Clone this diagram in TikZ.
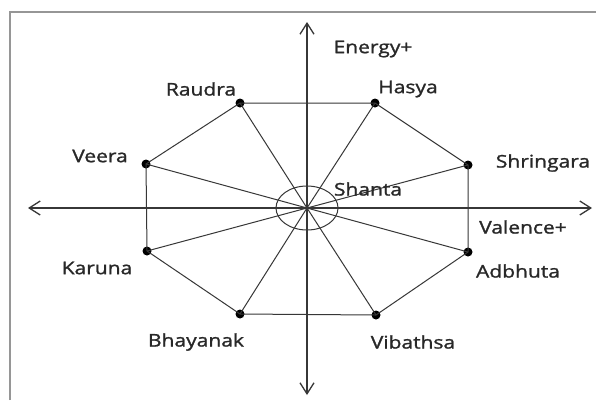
\documentclass[tikz,border=0pt]{standalone}
\usepackage{fontspec}
\setmainfont{Open Sans}
\newfontfamily\labfont{Open Sans}[FakeBold=1.2]
\usetikzlibrary{arrows.meta}
\definecolor{txt}{RGB}{40,40,40}
\definecolor{ln}{RGB}{55,55,55}
\definecolor{frame}{RGB}{150,150,150}
\tikzset{
  lab/.style={font=\labfont\fontsize{17.5}{20}\selectfont, text=txt, inner sep=0pt, xscale=1.2},
  dot/.style={circle, fill=black, inner sep=0pt, minimum size=9pt},
  edge/.style={draw=ln, line width=1pt},
  axis/.style={draw=ln, line width=1.3pt, -{Straight Barb[length=11pt,width=14pt,line width=1.3pt]}},
}
\begin{document}
\begin{tikzpicture}[x=1pt,y=-1pt]
\useasboundingbox (0,0) rectangle (596,400);
\fill[white] (0,0) rectangle (596,400);
\draw[frame, line width=2pt] (10,400) -- (10,12) -- (596,12);
% center and vertices
\coordinate (c) at (307,208);
\node[dot] (raudra) at (240,103) {};
\node[dot] (hasya) at (375,103) {};
\node[dot] (veera) at (146,164) {};
\node[dot] (shringara) at (468,165) {};
\node[dot] (karuna) at (147,251) {};
\node[dot] (adbhuta) at (468,252) {};
\node[dot] (bhayanak) at (240,314) {};
\node[dot] (vibathsa) at (376,315) {};
% axes
\coordinate (xl) at (28,208);
\coordinate (xr) at (592,208);
\coordinate (yt) at (307,22);
\coordinate (yb) at (307,395);
\draw[axis] (c) -- (xl);
\draw[axis] (c) -- (xr);
\draw[axis] (c) -- (yt);
\draw[axis] (c) -- (yb);
% octagon
\draw[edge] (raudra.center) -- (hasya.center) -- (shringara.center) -- (adbhuta.center) -- (vibathsa.center) -- (bhayanak.center) -- (karuna.center) -- (veera.center) -- cycle;
% spokes
\foreach \n in {raudra,hasya,veera,shringara,karuna,adbhuta,bhayanak,vibathsa}
  \draw[edge] (c) -- (\n.center);
\draw[edge] (c) ellipse [x radius=31, y radius=22];
% labels
\node[lab] (lraudra) at (201,89) {Raudra};
\node[lab] (lveera) at (100,156) {Veera};
\node[lab] (lhasya) at (408,89) {Hasya};
\node[lab] (lshringara) at (543,163) {Shringara};
\node[lab] (lenergy) at (373,49) {Energy+};
\node[lab] (lshanta) at (368,189) {Shanta};
\node[lab] (lvalence) at (523,227) {Valence+};
\node[lab] (ladbhuta) at (518,271) {Adbhuta};
\node[lab] (lkaruna) at (97,268) {Karuna};
\node[lab] (lbhayanak) at (196,342) {Bhayanak};
\node[lab] (lvibathsa) at (413,342) {Vibathsa};
\end{tikzpicture}
\end{document}
